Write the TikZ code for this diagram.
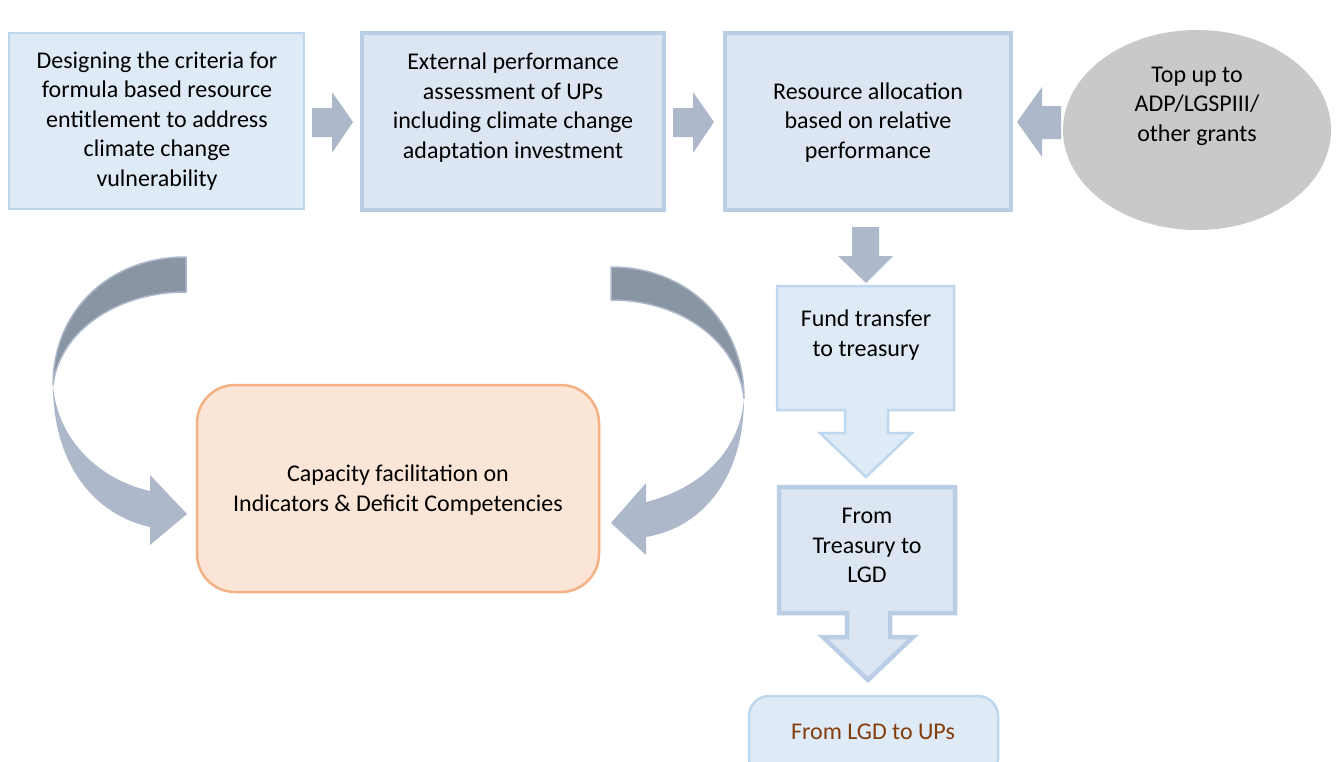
\documentclass[tikz,border=0pt]{standalone}
\usepackage{fontspec}
\setmainfont{Carlito}
\usetikzlibrary{shapes.geometric}
\definecolor{thinfill}{HTML}{DEEBF7}
\definecolor{thinline}{HTML}{BDD7EE}
\definecolor{thickfill}{HTML}{DCE6F2}
\definecolor{thickline}{HTML}{B9CDE5}
\definecolor{arrowfill}{HTML}{ADB9CA}
\definecolor{arrowdark}{HTML}{8995A2}
\definecolor{orangefill}{HTML}{FBE5D6}
\definecolor{orangeline}{HTML}{F4B183}
\definecolor{greyfill}{HTML}{C9C9C9}
\definecolor{browntext}{HTML}{843C0C}
\begin{document}
\begin{tikzpicture}[x=1pt,y=-1pt,
  txt/.style={align=center, inner sep=0pt, font=\fontsize{24}{29.5}\selectfont},
  thinbox/.style={draw=thinline, fill=thinfill, line width=2.5pt, inner sep=0pt},
  thickbox/.style={draw=thickline, fill=thickfill, line width=4.5pt, inner sep=0pt},
  blockarrow/.style={fill=arrowfill},
  darkpart/.style={fill=arrowdark, draw=arrowfill, line width=1.5pt, line join=round},
]
\path[use as bounding box, clip] (0,0) rectangle (1336,761);
\fill[white] (0,0) rectangle (1336,761);

% top row boxes
\node[thinbox, minimum width=295pt, minimum height=176pt] (b1) at (156.5,121) {};
\node[thickbox, minimum width=302pt, minimum height=177pt] (b2) at (513,121.5) {};
\node[thickbox, minimum width=286pt, minimum height=177pt] (b3) at (868,121.5) {};
\node[ellipse, fill=greyfill, minimum width=268pt, minimum height=200pt, inner sep=0pt] (el) at (1197,130) {};

\node[txt] (t1) at (157,121) {Designing the criteria for\\formula based resource\\entitlement to address\\climate change\\vulnerability};
\node[txt] (t2) at (513,107.5) {External performance\\assessment of UPs\\including climate change\\adaptation investment};
\node[txt] (t3) at (868,122.5) {Resource allocation\\based on relative\\performance};
\node[txt] (te) at (1197,106) {Top up to\\ADP/LGSPIII/\\other grants};

% straight block arrows
\fill[blockarrow] (312,108) -- (332,108) -- (332,92) -- (353,122) -- (332,153) -- (332,137) -- (312,137) -- cycle;
\fill[blockarrow] (673,108) -- (693,108) -- (693,92) -- (714,122) -- (693,153) -- (693,137) -- (673,137) -- cycle;
\fill[blockarrow] (1061,106) -- (1042,106) -- (1042,87) -- (1017,122) -- (1042,157) -- (1042,139) -- (1061,139) -- cycle;
\fill[blockarrow] (852,227) -- (879,227) -- (879,256) -- (893,256) -- (866,283) -- (838,256) -- (852,256) -- cycle;

% right column callouts
\draw[thinbox, line join=miter] (777,286) -- (954,286) -- (954,410) -- (888,410) -- (888,433) -- (912,433) -- (866,477) -- (820,433) -- (845,433) -- (845,410) -- (777,410) -- cycle;
\coordinate (b4) at (865.5,348);
\node[txt] (t4) at (866,335) {Fund transfer\\to treasury};

\draw[thickbox, line join=miter] (779,487) -- (955,487) -- (955,613) -- (890,613) -- (890,637) -- (913,637) -- (868,680) -- (823,637) -- (847,637) -- (847,613) -- (779,613) -- cycle;
\coordinate (b5) at (867,550);
\node[txt] (t5) at (867,545.5) {From\\Treasury to\\LGD};

\node[thinbox, rounded corners=20pt, minimum width=249pt, minimum height=82pt] (b6) at (873.5,737) {};
\node[txt, text=browntext] (t6) at (873,732) {From LGD to UPs};

% orange box
\node[draw=orangeline, fill=orangefill, line width=2.5pt, rounded corners=38pt, minimum width=402pt, minimum height=207pt, inner sep=0pt] (ob) at (398,488.5) {};
\node[txt] (to) at (398,490) {Capacity facilitation on\\Indicators \& Deficit Competencies};

% curved arrows
\filldraw[darkpart] (186,257) .. controls (108,257) and (53,312) .. (53,385) .. controls (60,330) and (118,292) .. (186,292) -- cycle;
\fill[blockarrow] (53,385) .. controls (53,465) and (95,515) .. (150,527) -- (150,545) -- (187,514) -- (150,475) -- (150,491) .. controls (100,480) and (57,440) .. (53,385) -- cycle;

\filldraw[darkpart] (611,267) .. controls (690,267) and (744,325) .. (744,398) .. controls (737,340) and (680,300) .. (611,300) -- cycle;
\fill[blockarrow] (744,398) .. controls (744,475) and (705,527) .. (646,537) -- (646,555) -- (611,523) -- (646,483) -- (646,502) .. controls (695,490) and (740,455) .. (744,398) -- cycle;
\end{tikzpicture}
\end{document}
